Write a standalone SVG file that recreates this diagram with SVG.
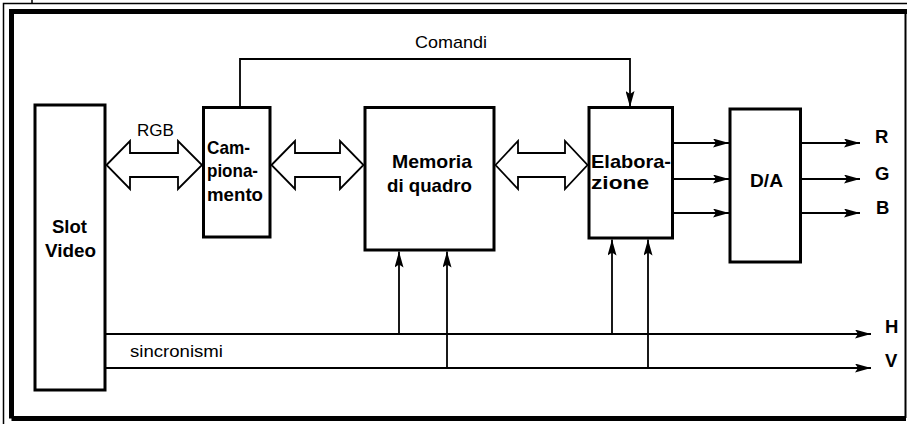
<svg xmlns="http://www.w3.org/2000/svg" width="907" height="424" viewBox="0 0 907 424">
<style>
.box{fill:#fff;stroke:#000;stroke-width:3}
.bus{fill:#fff;stroke:#000;stroke-width:1.8;stroke-linejoin:miter}
.ln{fill:none;stroke:#000;stroke-width:1.8}
.b{font-family:"Liberation Sans",Arial,sans-serif;font-weight:bold;font-size:18.5px;fill:#000}
.n{font-family:"Liberation Sans",Arial,sans-serif;font-size:17px;fill:#000}
</style>
<defs>
<marker id="ah" viewBox="0 0 16 9" refX="16" refY="4.5" markerWidth="16" markerHeight="9" markerUnits="userSpaceOnUse" orient="auto">
<path d="M0,0 L16,4.5 L0,9 L3,4.5 z" fill="#000"/>
</marker>
</defs>
<rect width="907" height="424" fill="#fff"/>
<g id="frame">
<path d="M3.5 424 V3.5 H907 M32 0 V3.5" fill="none" stroke="#000" stroke-width="1.5"/>
<path d="M11.5 418.5 V11.5 H907 M11.5 418.5 H906" fill="none" stroke="#000" stroke-width="5"/>
<path d="M905.5 11 V418" fill="none" stroke="#000" stroke-width="2"/>
</g>
<g id="connectors">
<polygon class="bus" points="106.5,165 130,141 130,153 178,153 178,141 202,165 178,189 178,177 130,177 130,189"/>
<polygon class="bus" points="271.5,165 295,141 295,153 340,153 340,141 363.5,165 340,189 340,177 295,177 295,189"/>
<polygon class="bus" points="495.5,165 518,141 518,153 565,153 565,141 587.5,165 565,189 565,177 518,177 518,189"/>
<path class="ln" d="M240 106 V59 H630 V107" marker-end="url(#ah)"/>
<path class="ln" d="M674 143 H729" marker-end="url(#ah)"/>
<path class="ln" d="M674 179 H729" marker-end="url(#ah)"/>
<path class="ln" d="M674 213 H729" marker-end="url(#ah)"/>
<path class="ln" d="M802 143 H860" marker-end="url(#ah)"/>
<path class="ln" d="M802 179 H860" marker-end="url(#ah)"/>
<path class="ln" d="M802 213 H860" marker-end="url(#ah)"/>
<path class="ln" d="M106 334 H871" marker-end="url(#ah)"/>
<path class="ln" d="M106 368 H871" marker-end="url(#ah)"/>
<path class="ln" d="M399 334 V251.5" marker-end="url(#ah)"/>
<path class="ln" d="M447 368 V251.5" marker-end="url(#ah)"/>
<path class="ln" d="M612 334 V239.5" marker-end="url(#ah)"/>
<path class="ln" d="M648 368 V239.5" marker-end="url(#ah)"/>
<text class="n" x="137" y="136" font-size="16" textLength="37" lengthAdjust="spacingAndGlyphs">RGB</text>
<text class="n" x="415" y="48" font-size="18" textLength="72" lengthAdjust="spacingAndGlyphs">Comandi</text>
<text class="n" x="130" y="357" font-size="18.5" textLength="93" lengthAdjust="spacingAndGlyphs">sincronismi</text>
<text class="b" x="875" y="143">R</text>
<text class="b" x="875" y="180">G</text>
<text class="b" x="876" y="214">B</text>
<text class="b" x="885" y="333">H</text>
<text class="b" x="885" y="367">V</text>
</g>
<g id="slot">
<rect class="box" x="35" y="105" width="70" height="285"/>
<text class="b" x="52" y="233" textLength="35" lengthAdjust="spacingAndGlyphs">Slot</text>
<text class="b" x="45" y="257" textLength="51" lengthAdjust="spacingAndGlyphs">Video</text>
</g>
<g id="campionamento">
<rect class="box" x="203.5" y="107.5" width="66.5" height="129.5"/>
<text class="b" x="207" y="154" textLength="43" lengthAdjust="spacingAndGlyphs">Cam-</text>
<text class="b" x="207" y="177" textLength="51" lengthAdjust="spacingAndGlyphs">piona-</text>
<text class="b" x="207" y="201" textLength="56" lengthAdjust="spacingAndGlyphs">mento</text>
</g>
<g id="memoria">
<rect class="box" x="365" y="107.5" width="129" height="142.5"/>
<text class="b" x="392" y="168" font-size="19" textLength="80" lengthAdjust="spacingAndGlyphs">Memoria</text>
<text class="b" x="387" y="192" font-size="19" textLength="85" lengthAdjust="spacingAndGlyphs">di quadro</text>
</g>
<g id="elaborazione">
<rect class="box" x="589" y="107.5" width="83.5" height="130.5"/>
<text class="b" x="591" y="168" textLength="80" lengthAdjust="spacingAndGlyphs">Elabora-</text>
<text class="b" x="591" y="189" textLength="58" lengthAdjust="spacingAndGlyphs">zione</text>
</g>
<g id="da">
<rect class="box" x="730" y="109" width="70.5" height="153"/>
<text class="b" x="750" y="187" textLength="33" lengthAdjust="spacingAndGlyphs">D/A</text>
</g>
</svg>
